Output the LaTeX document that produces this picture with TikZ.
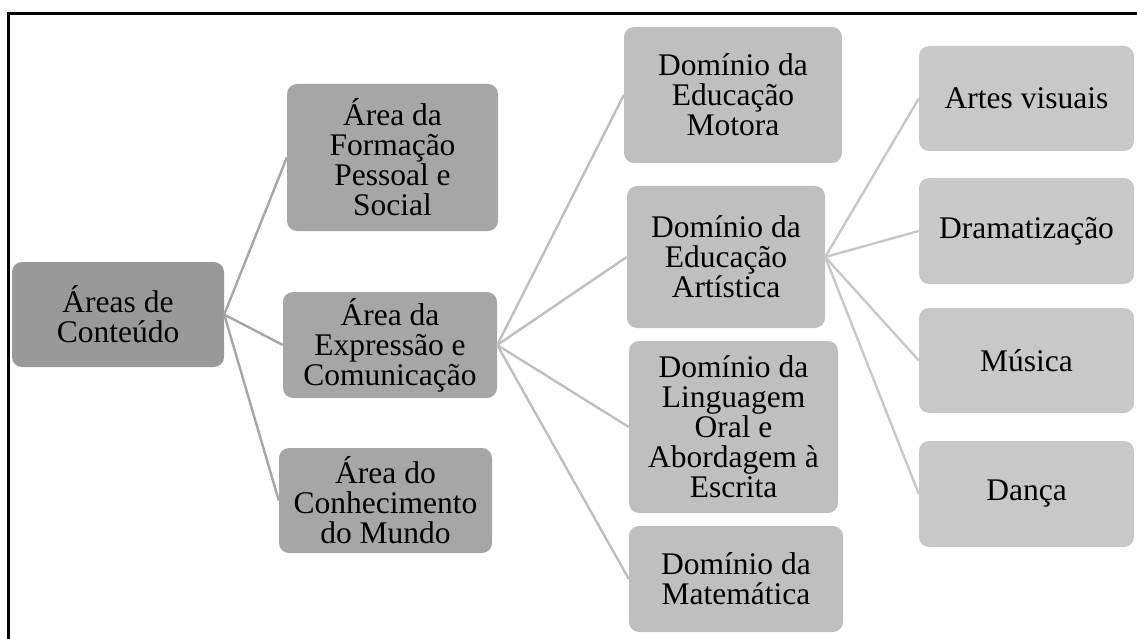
\documentclass[tikz,border=0pt]{standalone}
\usepackage{fontspec}
\setmainfont{Liberation Serif}
\definecolor{cRoot}{HTML}{999999}
\definecolor{cL1}{HTML}{A6A6A6}
\definecolor{cL2}{HTML}{BFBFBF}
\definecolor{cL3}{HTML}{C8C8C8}
\begin{document}
\begin{tikzpicture}[x=1pt,y=-1pt,
  box/.style={rounded corners=10pt, inner sep=0pt, align=center, text=black,
    font=\fontsize{31.5}{30}\selectfont},
  lnk/.style={line width=2.4pt}
]
\useasboundingbox (0,0) rectangle (1137,639);
% frame
\draw[line width=3pt] (8.5,639) -- (8.5,13.5) -- (1137,13.5);
% nodes
\node[box, fill=cRoot, minimum width=212pt, minimum height=105pt] (root) at (118,314.5) {Áreas de\\Conteúdo};
\node[box, fill=cL1, minimum width=211pt, minimum height=147pt] (f1) at (392.5,157.5) {Área da\\Formação\\Pessoal e\\Social};
\node[box, fill=cL1, minimum width=214pt, minimum height=106pt] (f2) at (390,345) {Área da\\Expressão e\\Comunicação};
\node[box, fill=cL1, minimum width=213pt, minimum height=105pt] (f3) at (385.5,500.5) {Área do\\Conhecimento\\do Mundo};
\node[box, fill=cL2, minimum width=218pt, minimum height=136pt] (d1) at (733,95) {Domínio da\\Educação\\Motora};
\node[box, fill=cL2, minimum width=198pt, minimum height=142pt] (d2) at (726,257) {Domínio da\\Educação\\Artística};
\node[box, fill=cL2, minimum width=209pt, minimum height=172pt] (d3) at (733.5,427) {Domínio da\\Linguagem\\Oral e\\Abordagem à\\Escrita};
\node[box, fill=cL2, minimum width=214pt, minimum height=106pt] (d4) at (736,579) {Domínio da\\Matemática};
\node[box, fill=cL3, minimum width=215pt, minimum height=105pt] (a1) at (1026.5,98.5) {Artes visuais};
\node[box, fill=cL3, minimum width=215pt, minimum height=106pt] (a2) at (1026.5,231) {Dramatização};
\node[box, fill=cL3, minimum width=215pt, minimum height=105pt] (a3) at (1026.5,360.5) {Música};
\node[box, fill=cL3, minimum width=215pt, minimum height=106pt] (a4) at (1026.5,494) {Dança};
% connectors
\foreach \t in {f1,f2,f3} \draw[lnk, draw=cL1] (root.east) -- (\t.west);
\foreach \t in {d1,d2,d3,d4} \draw[lnk, draw=cL2] (f2.east) -- (\t.west);
\foreach \t in {a1,a2,a3,a4} \draw[lnk, draw=cL3] (d2.east) -- (\t.west);
\end{tikzpicture}
\end{document}
